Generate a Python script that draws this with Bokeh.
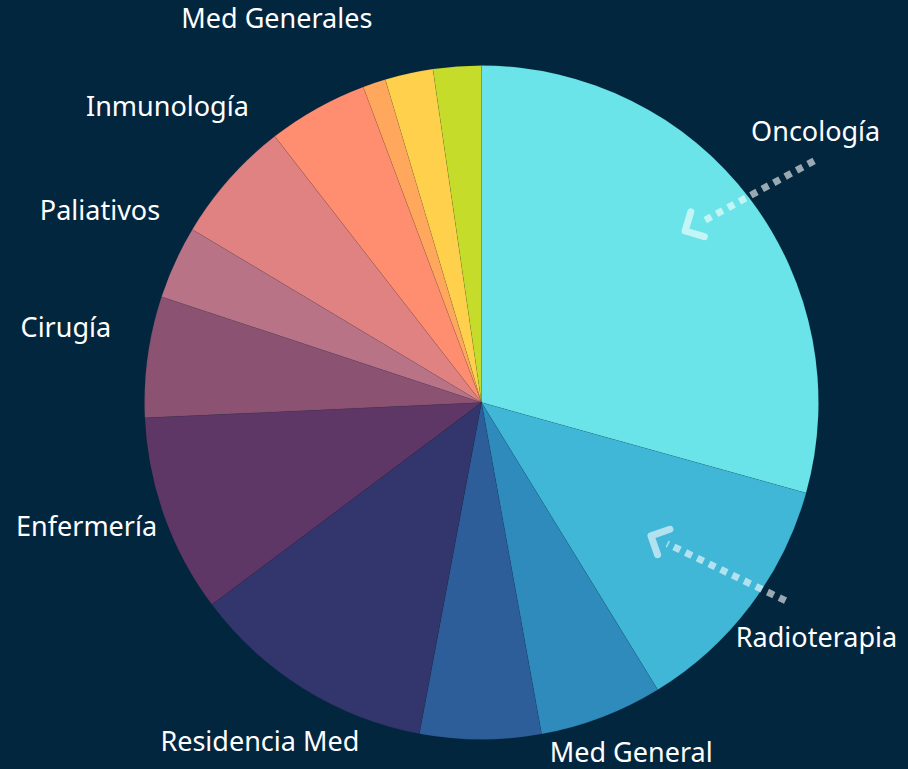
import math
import numpy as np
from bokeh.plotting import figure
from bokeh.models import ColumnDataSource, Range1d
from bokeh.core.properties import value
from bokeh.embed import file_html
from bokeh.resources import INLINE

# ---- data (share of each service, %; clockwise from 12 o'clock) ----
labels = ["Oncología", "Radioterapia", "Med General", None, "Residencia Med",
          "Enfermería", "Cirugía", "Paliativos", "Inmunología", "Med Generales",
          None, None, None]
values = [29.3, 11.9, 5.9, 5.8, 11.8, 9.5, 5.8, 3.5, 5.9, 4.8, 1.1, 2.3, 2.3]
colors = ["#6AE4E8", "#40B7D6", "#2E8BBB", "#2E5E9A", "#32366C", "#5E3766",
          "#8B5272", "#B87386", "#E08182", "#FF8D6F", "#FFA75C", "#FFD04B",
          "#C6DC2A"]

# annotation arrows: (category, tail angle deg, tail r-frac, tip angle deg, tip r-frac)
arrows = [("Oncología", 54.0, 1.22, 49.9, 0.79),
          ("Radioterapia", 123.1, 1.077, 128.2, 0.64)]

BG = "#03263F"
W, H = 908, 769
CX, CY, R = 481, H - 402, 337
FONT = "Noto Sans"

vals = np.array(values, dtype=float)
frac = vals / vals.sum()
cum_end = np.cumsum(frac) * 2 * math.pi
cum_start = cum_end - frac * 2 * math.pi

src = ColumnDataSource(dict(
    start=[math.pi / 2 - e for e in cum_end],
    end=[math.pi / 2 - s for s in cum_start],
    color=colors,
))

p = figure(width=W, height=H, x_range=Range1d(0, W), y_range=Range1d(0, H),
           output_backend="svg", toolbar_location=None, min_border=0,
           x_axis_type=None, y_axis_type=None,
           background_fill_color=BG, border_fill_color=BG,
           outline_line_color=None)
p.grid.visible = False

p.wedge(x=CX, y=CY, radius=R, start_angle="start", end_angle="end",
        fill_color="color", line_color="#000000", line_alpha=0.08,
        line_width=0.8, source=src)

# labels: centred on slice mid-angle outside the pie
lx, ly, lt = [], [], []
for lab, s, e in zip(labels, cum_start, cum_end):
    if not lab:
        continue
    m = (s + e) / 2
    x = CX + 1.245 * R * math.sin(m)
    y = CY + 1.245 * R * math.cos(m)
    y = max(y, 0)
    lx.append(x); ly.append(y); lt.append(lab)
p.text(x=lx, y=ly, text=lt, text_align="center", text_baseline="bottom",
       text_font=value(FONT), text_font_size="27px", text_color="#FFFFFF")

def polar(a_deg, rf):
    a = math.radians(a_deg)
    return CX + rf * R * math.sin(a), CY + rf * R * math.cos(a)

for cat, ta, tr, ha, hr in arrows:
    tx, ty = polar(ta, tr)
    hx, hy = polar(ha, hr)
    dx, dy = tx - hx, ty - hy
    L = math.hypot(dx, dy)
    ux, uy = dx / L, dy / L
    # dotted shaft
    sx, sy = hx + ux * 18, hy + uy * 18
    p.line([tx, sx], [ty, sy], line_color="white", line_alpha=0.6,
           line_width=7, line_dash="7 6", line_cap="butt")
    # open arrow head
    ang = math.atan2(uy, ux)
    hl = 20
    a1 = ang + math.radians(45)
    a2 = ang - math.radians(45)
    p.line([hx + hl * math.cos(a1), hx, hx + hl * math.cos(a2)],
           [hy + hl * math.sin(a1), hy, hy + hl * math.sin(a2)],
           line_color="white", line_alpha=0.6, line_width=7,
           line_cap="round", line_join="round")

html = file_html(p, INLINE, title="Distribución por servicio")
html = html.replace("</head>",
                    "<style>html,body{margin:0;padding:0;background:%s;overflow:hidden;}</style></head>" % BG, 1)
open("out.html", "w").write(html)
